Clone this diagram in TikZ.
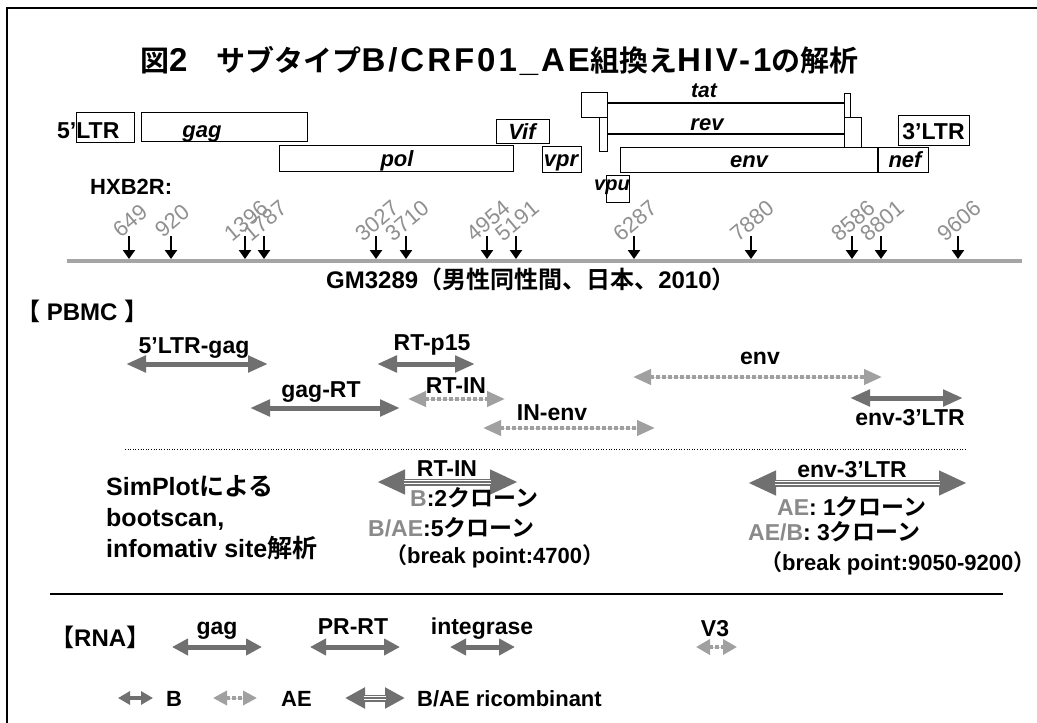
\documentclass[tikz,border=0pt]{standalone}
\usepackage{fontspec}
\setmainfont{Liberation Sans}
\newfontfamily\jp{Noto Sans CJK JP}[BoldFont={* Bold}]
\newfontfamily\titlelat{Liberation Sans}[LetterSpace=9]
\usetikzlibrary{arrows.meta}
\definecolor{bdark}{HTML}{707070}
\definecolor{aelight}{HTML}{A0A0A0}
\definecolor{aeback}{HTML}{D8D8D8}
\definecolor{numgray}{HTML}{909090}
\definecolor{txtgray}{HTML}{8A8A8A}
\definecolor{axgray}{HTML}{A5A5A5}
\newcommand\jpt[1]{{\jp #1}}
\newcommand\tlat[1]{{\titlelat\bfseries\fontsize{33}{34}\selectfont #1}}
\tikzset{
  lab/.style={font=\bfseries\fontsize{23}{26}\selectfont, inner sep=0pt, anchor=base},
  glab/.style={font=\bfseries\itshape\fontsize{22}{24}\selectfont, inner sep=0pt},
  gbox/.style={draw=black, line width=1pt, fill=white, inner sep=0pt},
  numlab/.style={font=\fontsize{22}{24}\selectfont, text=numgray, rotate=40, inner sep=0pt},
  tickarr/.style={draw=black, line width=2.6pt, -{Triangle[length=9pt,width=12pt]}},
  barB/.style n args={2}{draw=bdark, line width=5pt,
     {Triangle[length=#1,width=#2]}-{Triangle[length=#1,width=#2]}},
  barAE/.style n args={2}{draw=aelight, line width=4pt,
     {Triangle[length=#1,width=#2]}-{Triangle[length=#1,width=#2]},
     dash pattern=on 3.5pt off 2.5pt,
     preaction={draw=aeback, -, solid, shorten <=#1, shorten >=#1}},
  barBAE/.style n args={2}{draw=bdark, line width=7pt,
     {Triangle[length=#1,width=#2]}-{Triangle[length=#1,width=#2]},
     postaction={draw=white, -, line width=4pt, shorten <=#1-1pt, shorten >=#1-1pt},
     postaction={draw=bdark, -, line width=1.3pt, shorten <=#1-1pt, shorten >=#1-1pt}},
  sep/.style={draw=black, line width=1.6pt},
  dotsep/.style={draw=black, line width=0.9pt, dash pattern=on 1pt off 1.6pt},
}
\begin{document}
\begin{tikzpicture}[x=1pt,y=-1pt]
\useasboundingbox (0,0) rectangle (1037,723);
\fill[white] (0,0) rectangle (1037,723);
% frame
\coordinate (fTL) at (7,8);
\coordinate (fTR) at (1037,8);
\coordinate (fBL) at (7,723);
\draw[line width=2pt] (fBL) -- (fTL) -- (fTR);

% title
\node[anchor=west, inner sep=0pt, font=\jp\bfseries\fontsize{29}{31}\selectfont] (title) at (140,61)
  {図\tlat{2}　サブタイプ\tlat{B/CRF01\_AE}組換え\tlat{HIV-1}の解析};

% gene map boxes
\node[gbox, minimum width=58pt, minimum height=30pt] (ltr5box) at (105,127) {};
\node[lab, anchor=base west] (ltr5) at (57,138) {5’LTR};
\node[gbox, minimum width=166pt, minimum height=29pt] (gagbox) at (224,126.5) {};
\node[glab, anchor=base] (gagt) at (202,137) {gag};
\node[gbox, minimum width=234pt, minimum height=26pt] (polbox) at (396,158) {};
\node[glab, anchor=base] (polt) at (397,166) {pol};
\node[gbox, minimum width=53pt, minimum height=24pt] (vifbox) at (522.5,131) {};
\node[glab, anchor=base] (vift) at (522,139) {Vif};
\node[gbox, minimum width=39pt, minimum height=26pt] (vprbox) at (561.5,159) {};
\node[glab, anchor=base] (vprt) at (561,166) {vpr};
\node[gbox, minimum width=25.5pt, minimum height=25pt] (tatL) at (594.25,104.5) {};
\node[gbox, minimum width=6pt, minimum height=24pt] (tatR) at (847,105) {};
\node[gbox, minimum width=8pt, minimum height=34pt] (revL) at (603,134) {};
\node[gbox, minimum width=17pt, minimum height=30pt] (revR) at (852.5,132) {};
\draw[line width=2pt] (tatL.east |- 0,103) -- (tatR.west |- 0,103);
\draw[line width=2pt] (revL.east) -- (revR.west |- revL.east);
\node[glab, anchor=base, font=\bfseries\itshape\fontsize{21}{22}\selectfont] (tatt) at (704,97) {tat};
\node[glab, anchor=base, font=\bfseries\itshape\fontsize{22}{22}\selectfont] (revt) at (707,130) {rev};
\node[gbox, minimum width=257pt, minimum height=25pt] (envbox) at (749,159.5) {};
\node[glab, anchor=base] (envt) at (749,167) {env};
\node[gbox, minimum width=50pt, minimum height=25pt] (nefbox) at (903,159.5) {};
\node[glab, anchor=base] (neft) at (905,167) {nef};
\node[gbox, minimum width=71pt, minimum height=30pt] (ltr3box) at (933.5,130) {};
\node[lab] (ltr3) at (933.5,139) {3’LTR};
\node[gbox, minimum width=22.5pt, minimum height=27pt] (vpubox) at (618,188.5) {};
\node[glab, anchor=base, font=\bfseries\itshape\fontsize{20}{22}\selectfont] (vput) at (612,190) {vpu};

% HXB2R axis
\node[lab, anchor=base west, font=\bfseries\fontsize{22}{24}\selectfont] (hxb) at (90,194) {HXB2R:};
\coordinate (axL) at (67,261);
\coordinate (axR) at (1022,261);
\draw[draw=axgray, line width=3.5pt] (axL) -- (axR);
\foreach \x/\n/\i in {129/649/1, 171/920/2, 245/1396/3, 264/1787/4, 376/3027/5,
    406/3710/6, 487/4954/7, 516/5191/8, 634/6287/9, 751/7880/10, 852/8586/11,
    881/8801/12, 958/9606/13}{
  \coordinate (tka\i) at (\x,236);
  \coordinate (tkb\i) at (\x,259);
  \draw[tickarr] (tka\i) -- (tkb\i);
  \node[numlab] (nl\i) at (\x+1,221) {\n};
}

% PBMC section
\node[anchor=west, inner sep=0pt, font=\bfseries\fontsize{24}{26}\selectfont] (gm) at (326,279)
  {GM3289\jpt{（男性同性間、日本、}2010\jpt{）}};
\node[anchor=west, inner sep=0pt, font=\bfseries\fontsize{24}{26}\selectfont] (pbmc) at (16,311)
  {\jpt{【} PBMC \jpt{】}};

\coordinate (a1L) at (126,364); \coordinate (a1R) at (268,364);
\draw[barB={20pt}{16pt}] (a1L) -- (a1R);
\node[lab] (a1t) at (194,353) {5’LTR-gag};
\coordinate (a2L) at (377,364); \coordinate (a2R) at (475,364);
\draw[barB={20pt}{16pt}] (a2L) -- (a2R);
\node[lab] (a2t) at (432,350) {RT-p15};
\coordinate (a3L) at (250,408); \coordinate (a3R) at (400,408);
\draw[barB={20pt}{16pt}] (a3L) -- (a3R);
\node[lab] (a3t) at (321,397) {gag-RT};
\coordinate (a4L) at (408,399); \coordinate (a4R) at (505,399);
\draw[barAE={18pt}{15pt}] (a4L) -- (a4R);
\node[lab] (a4t) at (456,393) {RT-IN};
\coordinate (a5L) at (483,428); \coordinate (a5R) at (655,428);
\draw[barAE={18pt}{15pt}] (a5L) -- (a5R);
\node[lab] (a5t) at (552,420) {IN-env};
\coordinate (a6L) at (633,377); \coordinate (a6R) at (882,377);
\draw[barAE={18pt}{15pt}] (a6L) -- (a6R);
\node[lab] (a6t) at (760,364) {env};
\coordinate (a7L) at (850,398); \coordinate (a7R) at (963,398);
\draw[barB={20pt}{16pt}] (a7L) -- (a7R);
\node[lab] (a7t) at (910,425) {env-3’LTR};

\coordinate (d1L) at (125,449); \coordinate (d1R) at (965,449);
\draw[dotsep] (d1L) -- (d1R);

% SimPlot block
\node[anchor=base west, inner sep=0pt, font=\bfseries\fontsize{25}{28}\selectfont] (sp1) at (106,495) {SimPlot\jpt{による}};
\node[anchor=base west, inner sep=0pt, font=\bfseries\fontsize{25}{28}\selectfont] (sp2) at (106,526) {bootscan,};
\node[anchor=base west, inner sep=0pt, font=\bfseries\fontsize{25}{28}\selectfont] (sp3) at (106,557) {infomativ site\jpt{解析}};

\coordinate (b1L) at (377,482); \coordinate (b1R) at (518,482);
\draw[barBAE={28pt}{23pt}] (b1L) -- (b1R);
\node[lab] (b1t) at (447,476) {RT-IN};
\node[lab, anchor=base west] (c1) at (410,506) {\textcolor{txtgray}{B}:2\jpt{クローン}};
\node[lab, anchor=base west] (c2) at (368,536) {\textcolor{txtgray}{B/AE}:5\jpt{クローン}};
\node[lab, anchor=base west, font=\bfseries\fontsize{22}{24}\selectfont] (c3) at (385,563) {\jpt{（}break point:4700\jpt{）}};

\coordinate (b2L) at (748,483); \coordinate (b2R) at (967,483);
\draw[barBAE={28pt}{23pt}] (b2L) -- (b2R);
\node[lab] (b2t) at (852,477) {env-3’LTR};
\node[lab, anchor=base west] (c4) at (777,515) {\textcolor{txtgray}{AE}: 1\jpt{クローン}};
\node[lab, anchor=base west] (c5) at (748,540) {\textcolor{txtgray}{AE/B}: 3\jpt{クローン}};
\node[lab, anchor=base west, font=\bfseries\fontsize{22}{24}\selectfont] (c6) at (760,570) {\jpt{（}break point:9050-9200\jpt{）}};

\coordinate (s1L) at (50,594); \coordinate (s1R) at (1003,594);
\draw[sep] (s1L) -- (s1R);

% RNA
\node[anchor=west, inner sep=0pt, font=\bfseries\fontsize{24}{26}\selectfont] (rna) at (50,637)
  {\jpt{【}RNA\jpt{】}};
\coordinate (r1L) at (172,647); \coordinate (r1R) at (262,647);
\draw[barB={16pt}{16pt}] (r1L) -- (r1R);
\node[lab] (r1t) at (217,634) {gag};
\coordinate (r2L) at (310,647); \coordinate (r2R) at (400,647);
\draw[barB={16pt}{16pt}] (r2L) -- (r2R);
\node[lab] (r2t) at (353,634) {PR-RT};
\coordinate (r3L) at (450,647); \coordinate (r3R) at (515,647);
\draw[barB={16pt}{16pt}] (r3L) -- (r3R);
\node[lab] (r3t) at (482,634) {integrase};
\coordinate (r4L) at (696,647); \coordinate (r4R) at (737,647);
\draw[barAE={14pt}{15pt}] (r4L) -- (r4R);
\node[lab] (r4t) at (715,636) {V3};

% legend
\coordinate (l1L) at (118,698); \coordinate (l1R) at (153,698);
\draw[barB={12pt}{13pt}, line width=4pt] (l1L) -- (l1R);
\node[lab, anchor=base west, font=\bfseries\fontsize{22}{24}\selectfont] (l1t) at (166,706) {B};
\coordinate (l2L) at (213,698); \coordinate (l2R) at (257,698);
\draw[barAE={14pt}{14pt}] (l2L) -- (l2R);
\node[lab, anchor=base west, font=\bfseries\fontsize{22}{24}\selectfont] (l2t) at (281,706) {AE};
\coordinate (l3L) at (345,698); \coordinate (l3R) at (405,698);
\draw[barBAE={20pt}{20pt}] (l3L) -- (l3R);
\node[lab, anchor=base west, font=\bfseries\fontsize{22}{24}\selectfont] (l3t) at (417,706) {B/AE ricombinant};
\end{tikzpicture}
\end{document}
